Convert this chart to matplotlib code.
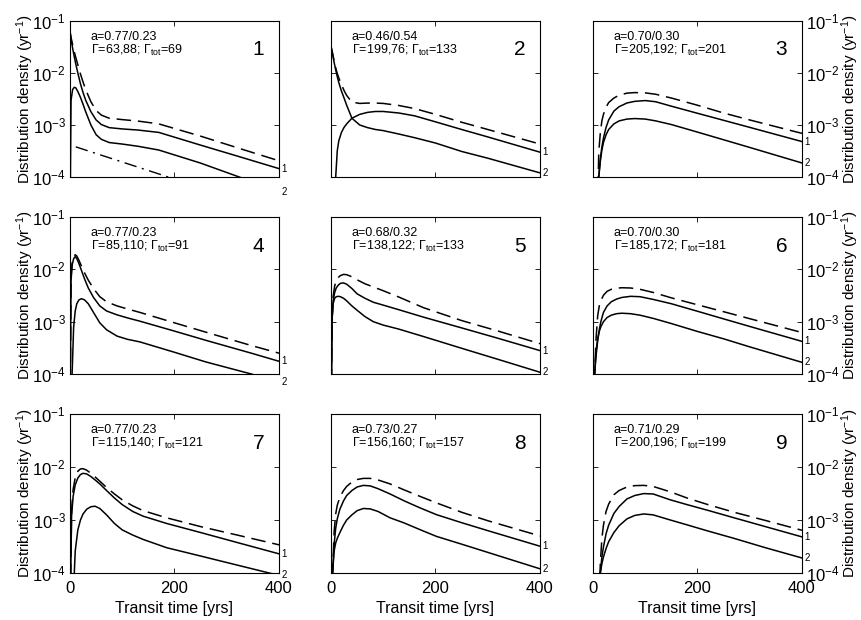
import matplotlib
matplotlib.use('Agg')
import matplotlib.pyplot as plt
from matplotlib.ticker import NullLocator, FixedLocator

plt.rcParams['font.family'] = ['Liberation Sans', 'DejaVu Sans']
plt.rcParams['mathtext.fontset'] = 'custom'
plt.rcParams['mathtext.rm'] = 'Liberation Sans'
plt.rcParams['mathtext.it'] = 'Liberation Sans:italic'
plt.rcParams['mathtext.default'] = 'regular'

# transit time grids (yrs) and densities (1/yr) for each panel:
# comp1 / comp2 = the two fitted components (solid), total = single-Gamma fit (dashed)
t1 = [0, 2, 5, 8, 11, 15, 20, 25, 30, 40, 50, 60, 75, 100, 130, 170, 250, 330, 400]
comp1_1 = [0.062, 0.045, 0.030, 0.021, 0.015, 0.010, 6.2e-3, 4.2e-3, 3.0e-3, 1.8e-3,
           1.25e-3, 1.02e-3, 8.9e-4, 8.4e-4, 8.0e-4, 7.2e-4, 4.1e-4, 2.36e-4, 1.45e-4]
comp2_1 = [1e-5, 3.0e-3, 4.8e-3, 5.3e-3, 5.2e-3, 4.4e-3, 3.4e-3, 2.5e-3, 1.8e-3, 1.0e-3,
           6.5e-4, 5.3e-4, 4.6e-4, 4.3e-4, 3.9e-4, 3.3e-4, 1.85e-4, 9.5e-5, 5.2e-5]
total_1 = [0.064, 0.048, 0.035, 0.026, 0.020, 0.0144, 9.6e-3, 6.7e-3, 4.8e-3, 2.8e-3,
           1.9e-3, 1.55e-3, 1.35e-3, 1.27e-3, 1.19e-3, 1.05e-3, 6.1e-4, 3.4e-4, 2.05e-4]
# dash-dot reference line in panel 1
t1_dd = [11, 188]
line_1 = [3.8e-4, 1.0e-4]

t2 = [0, 3, 6, 9, 12, 15, 20, 25, 30, 40, 55, 70, 85, 100, 130, 160, 200, 250, 300, 400]
comp1_2 = [1e-5, 1e-5, 1e-5, 1.0e-4, 3.2e-4, 5.0e-4, 7.2e-4, 9.0e-4, 1.05e-3, 1.35e-3,
           1.6e-3, 1.75e-3, 1.82e-3, 1.82e-3, 1.7e-3, 1.5e-3, 1.15e-3, 8.2e-4, 5.9e-4, 3.0e-4]
comp2_2 = [0.032, 0.023, 0.016, 0.0115, 8.5e-3, 6.5e-3, 4.5e-3, 3.3e-3, 2.4e-3, 1.35e-3,
           1.0e-3, 8.9e-4, 8.2e-4, 7.8e-4, 6.7e-4, 5.7e-4, 4.5e-4, 3.1e-4, 2.3e-4, 1.2e-4]
total_2 = [0.033, 0.024, 0.017, 0.0125, 9.8e-3, 8.0e-3, 6.0e-3, 4.6e-3, 3.7e-3, 2.75e-3,
           2.6e-3, 2.64e-3, 2.64e-3, 2.6e-3, 2.37e-3, 2.07e-3, 1.6e-3, 1.13e-3, 8.2e-4, 4.3e-4]

t3 = [0, 8, 11, 14, 17, 20, 25, 30, 40, 50, 65, 80, 100, 120, 150, 200, 250, 300, 400]
comp1_3 = [1e-5, 1e-5, 1.0e-4, 2.2e-4, 3.8e-4, 5.6e-4, 9.0e-4, 1.25e-3, 1.85e-3, 2.25e-3,
           2.65e-3, 2.85e-3, 2.95e-3, 2.8e-3, 2.3e-3, 1.68e-3, 1.23e-3, 9.0e-4, 4.8e-4]
comp2_3 = [1e-5, 1e-5, 1.0e-4, 2.0e-4, 3.3e-4, 4.6e-4, 6.5e-4, 8.2e-4, 1.05e-3, 1.2e-3,
           1.3e-3, 1.33e-3, 1.3e-3, 1.2e-3, 1.02e-3, 7.3e-4, 5.2e-4, 3.7e-4, 1.86e-4]
total_3 = [1e-5, 1e-5, 3.0e-4, 7.0e-4, 1.2e-3, 1.6e-3, 2.2e-3, 2.7e-3, 3.3e-3, 3.75e-3,
           4.1e-3, 4.2e-3, 4.15e-3, 3.9e-3, 3.3e-3, 2.4e-3, 1.7e-3, 1.25e-3, 6.9e-4]

t4 = [0, 2, 4, 7, 10, 13, 17, 22, 28, 35, 45, 57, 70, 90, 110, 134, 200, 260, 347, 400]
comp1_4 = [1e-5, 6.0e-3, 0.012, 0.016, 0.0175, 0.016, 0.013, 9.5e-3, 6.5e-3, 4.4e-3,
           2.9e-3, 2.0e-3, 1.6e-3, 1.35e-3, 1.18e-3, 1.02e-3, 6.6e-4, 4.4e-4, 2.5e-4, 1.75e-4]
comp2_4 = [1e-5, 1e-5, 1.0e-4, 8.0e-4, 1.6e-3, 2.2e-3, 2.6e-3, 2.75e-3, 2.6e-3, 2.2e-3,
           1.5e-3, 9.5e-4, 7.0e-4, 5.3e-4, 4.6e-4, 4.1e-4, 2.6e-4, 1.7e-4, 1.0e-4, 7.0e-5]
total_4 = [1e-5, 7.0e-3, 0.013, 0.0175, 0.019, 0.018, 0.015, 0.0115, 8.5e-3, 6.2e-3,
           4.3e-3, 3.0e-3, 2.4e-3, 2.0e-3, 1.75e-3, 1.5e-3, 9.5e-4, 6.3e-4, 3.5e-4, 2.5e-4]

t5 = [0, 2, 4, 7, 10, 14, 18, 24, 30, 40, 50, 65, 81, 100, 130, 177, 250, 320, 400]
comp1_5 = [1e-5, 1.0e-3, 2.5e-3, 3.6e-3, 4.4e-3, 5.0e-3, 5.4e-3, 5.5e-3, 5.2e-3, 4.3e-3,
           3.4e-3, 2.8e-3, 2.35e-3, 2.07e-3, 1.69e-3, 1.22e-3, 7.6e-4, 4.8e-4, 2.8e-4]
comp2_5 = [1e-5, 1.2e-3, 2.2e-3, 2.8e-3, 3.0e-3, 3.05e-3, 3.0e-3, 2.8e-3, 2.5e-3, 2.0e-3,
           1.65e-3, 1.25e-3, 1.0e-3, 8.6e-4, 7.2e-4, 5.2e-4, 3.1e-4, 1.9e-4, 1.08e-4]
total_5 = [1e-5, 1.0e-3, 3.0e-3, 4.8e-3, 6.0e-3, 7.0e-3, 7.6e-3, 8.0e-3, 7.9e-3, 7.2e-3,
           6.3e-3, 5.3e-3, 4.6e-3, 3.9e-3, 2.95e-3, 1.85e-3, 1.05e-3, 6.6e-4, 3.8e-4]

t6 = [0, 3, 6, 9, 12, 15, 20, 27, 35, 45, 55, 72, 90, 116, 150, 200, 250, 300, 400]
comp1_6 = [1e-5, 1.0e-4, 2.3e-4, 4.3e-4, 7.0e-4, 1.0e-3, 1.5e-3, 2.0e-3, 2.4e-3, 2.7e-3,
           2.9e-3, 3.05e-3, 3.0e-3, 2.65e-3, 2.2e-3, 1.58e-3, 1.13e-3, 8.1e-4, 4.2e-4]
comp2_6 = [1e-5, 1.0e-4, 2.8e-4, 4.8e-4, 6.5e-4, 8.0e-4, 1.0e-3, 1.2e-3, 1.33e-3, 1.42e-3,
           1.45e-3, 1.42e-3, 1.33e-3, 1.15e-3, 9.2e-4, 6.5e-4, 4.7e-4, 3.3e-4, 1.67e-4]
total_6 = [1e-5, 1.0e-4, 5.0e-4, 1.3e-3, 2.0e-3, 2.5e-3, 3.2e-3, 3.8e-3, 4.15e-3, 4.35e-3,
           4.45e-3, 4.4e-3, 4.15e-3, 3.6e-3, 2.85e-3, 2.1e-3, 1.55e-3, 1.14e-3, 6.2e-4]

t7 = [0, 3, 6, 10, 15, 20, 25, 32, 40, 48, 57, 70, 85, 100, 120, 140, 185, 250, 320, 400]
comp1_7 = [1e-5, 1.2e-3, 2.8e-3, 4.6e-3, 6.2e-3, 7.2e-3, 7.6e-3, 7.4e-3, 6.6e-3, 5.7e-3,
           4.8e-3, 3.6e-3, 2.6e-3, 1.95e-3, 1.45e-3, 1.18e-3, 8.6e-4, 5.8e-4, 3.76e-4, 2.3e-4]
comp2_7 = [1e-5, 1e-5, 3.0e-5, 2.6e-4, 6.5e-4, 1.0e-3, 1.3e-3, 1.6e-3, 1.78e-3, 1.82e-3,
           1.65e-3, 1.25e-3, 8.6e-4, 6.5e-4, 5.2e-4, 4.3e-4, 3.0e-4, 2.09e-4, 1.41e-4, 9.0e-5]
total_7 = [1e-5, 1.5e-3, 3.8e-3, 6.3e-3, 8.3e-3, 9.2e-3, 9.3e-3, 8.7e-3, 7.6e-3, 6.5e-3,
           5.4e-3, 4.1e-3, 3.1e-3, 2.4e-3, 1.85e-3, 1.5e-3, 1.1e-3, 7.5e-4, 5.2e-4, 3.4e-4]

t8 = [0, 3, 6, 9, 12, 17, 24, 30, 40, 50, 62, 75, 90, 113, 140, 170, 202, 250, 300, 400]
comp1_8 = [1e-5, 1.0e-4, 3.5e-4, 7.0e-4, 1.05e-3, 1.6e-3, 2.3e-3, 2.9e-3, 3.6e-3, 4.2e-3,
           4.5e-3, 4.4e-3, 3.9e-3, 3.1e-3, 2.3e-3, 1.7e-3, 1.26e-3, 8.9e-4, 6.3e-4, 3.2e-4]
comp2_8 = [1e-5, 1.0e-4, 2.6e-4, 3.7e-4, 4.5e-4, 5.8e-4, 8.0e-4, 1.0e-3, 1.25e-3, 1.5e-3,
           1.65e-3, 1.62e-3, 1.45e-3, 1.1e-3, 8.8e-4, 6.6e-4, 4.9e-4, 3.5e-4, 2.45e-4, 1.2e-4]
total_8 = [1e-5, 1.0e-4, 6.0e-4, 1.3e-3, 1.9e-3, 2.7e-3, 3.6e-3, 4.3e-3, 5.2e-3, 5.8e-3,
           6.1e-3, 6.1e-3, 5.7e-3, 4.8e-3, 3.7e-3, 2.8e-3, 2.1e-3, 1.4e-3, 9.7e-4, 5.0e-4]

t9 = [0, 10, 14, 17, 20, 25, 30, 40, 50, 65, 80, 97, 115, 148, 180, 220, 270, 330, 400]
comp1_9 = [1e-5, 1e-5, 1.0e-4, 2.0e-4, 3.1e-4, 5.5e-4, 8.0e-4, 1.33e-3, 1.8e-3, 2.5e-3,
           2.9e-3, 3.15e-3, 3.1e-3, 2.4e-3, 1.95e-3, 1.52e-3, 1.1e-3, 7.5e-4, 4.8e-4]
comp2_9 = [1e-5, 1e-5, 1.0e-4, 1.5e-4, 2.0e-4, 2.9e-4, 3.9e-4, 5.8e-4, 7.8e-4, 1.05e-3,
           1.22e-3, 1.3e-3, 1.25e-3, 1.0e-3, 8.1e-4, 6.2e-4, 4.5e-4, 3.0e-4, 1.92e-4]
total_9 = [1e-5, 1e-5, 1.5e-4, 4.5e-4, 8.0e-4, 1.45e-3, 2.0e-3, 3.0e-3, 3.6e-3, 4.2e-3,
           4.45e-3, 4.5e-3, 4.3e-3, 3.4e-3, 2.6e-3, 1.95e-3, 1.4e-3, 9.8e-4, 6.4e-4]

fractions = ['a=0.77/0.23', 'a=0.46/0.54', 'a=0.70/0.30',
             'a=0.77/0.23', 'a=0.68/0.32', 'a=0.70/0.30',
             'a=0.77/0.23', 'a=0.73/0.27', 'a=0.71/0.29']
gammas = ['63,88', '199,76', '205,192', '85,110', '138,122', '185,172',
          '115,140', '156,160', '200,196']
gamma_tot = ['69', '133', '201', '91', '133', '181', '121', '157', '199']

times = [t1, t2, t3, t4, t5, t6, t7, t8, t9]
comp1 = [comp1_1, comp1_2, comp1_3, comp1_4, comp1_5, comp1_6, comp1_7, comp1_8, comp1_9]
comp2 = [comp2_1, comp2_2, comp2_3, comp2_4, comp2_5, comp2_6, comp2_7, comp2_8, comp2_9]
total = [total_1, total_2, total_3, total_4, total_5, total_6, total_7, total_8, total_9]

W = 862.0
H = 620.0
lefts = [70, 331, 593]
rows = [(21, 177), (217, 374), (414, 573)]
width = 209

fig = plt.figure(figsize=(W / 100, H / 100), dpi=100)

ylab = 'Distribution density (yr$^{-1}$)'

for i in range(9):
    r, c = divmod(i, 3)
    top, bot = rows[r]
    ax = fig.add_axes([lefts[c] / W, 1 - bot / H, width / W, (bot - top) / H])

    t = times[i]
    ax.plot(t, comp1[i], color='k', lw=1.1)
    ax.plot(t, comp2[i], color='k', lw=1.1)
    ax.plot(t, total[i], color='k', lw=1.1, dashes=(9.5, 4.5))
    if i == 0:
        ax.plot(t1_dd, line_1, color='k', lw=1.0, dashes=(9, 4, 1.5, 4))

    ax.set_yscale('log')
    ax.set_xlim(0, 400)
    ax.set_ylim(1e-4, 1e-1)
    ax.yaxis.set_major_locator(FixedLocator([1e-4, 1e-3, 1e-2, 1e-1]))
    ax.yaxis.set_minor_locator(NullLocator())
    ax.xaxis.set_major_locator(FixedLocator([0, 200, 400]))

    ax.tick_params(which='both', direction='in', top=True, right=True,
                   length=3.5, width=0.6, labelsize=12)
    ax.tick_params(axis='y', pad=3)
    ax.tick_params(axis='x', pad=6)
    for s in ax.spines.values():
        s.set_linewidth(0.8)

    ax.tick_params(labelleft=(c == 0), labelright=(c == 2), labelbottom=(r == 2))
    if c == 0:
        ax.set_ylabel(ylab, fontsize=11)
        ax.yaxis.set_label_coords(-0.165, 0.5)
    elif c == 2:
        ax.yaxis.set_label_position('right')
        ax.set_ylabel(ylab, fontsize=11)
        ax.yaxis.set_label_coords(1.18, 0.5)
    if r == 2:
        ax.set_xlabel('Transit time [yrs]', fontsize=11.5, labelpad=3)

    ax.text(0.10, 0.88, fractions[i], transform=ax.transAxes, fontsize=9, va='baseline')
    ax.text(0.10, 0.79, 'Γ=%s; Γ$_{tot}$=%s' % (gammas[i], gamma_tot[i]),
            transform=ax.transAxes, fontsize=9, va='baseline')
    ax.text(0.93, 0.78, str(i + 1), transform=ax.transAxes, fontsize=15,
            ha='right', va='baseline')

    # curve tags at the right edge
    ax.text(404, comp1[i][-1], '1', fontsize=7, va='center', ha='left')
    ax.text(404, comp2[i][-1], '2', fontsize=7, va='center', ha='left')

fig.savefig('out.png', dpi=100)
